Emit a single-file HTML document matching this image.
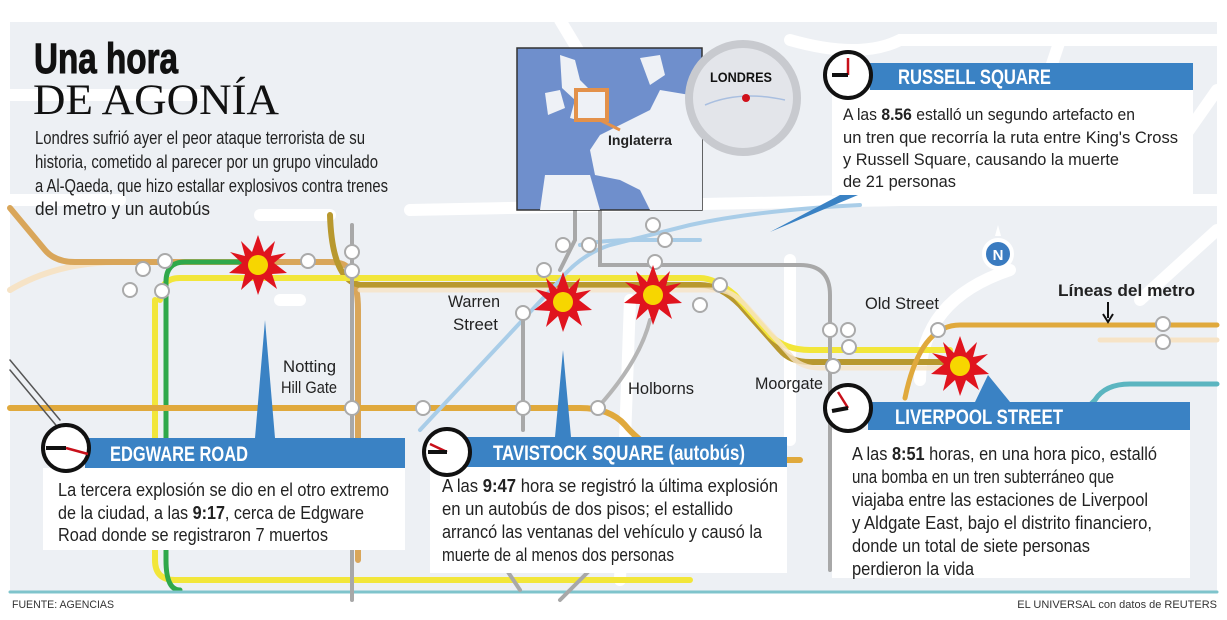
<!DOCTYPE html>
<html><head><meta charset="utf-8"><style>
html,body{margin:0;padding:0;background:#fff;}
svg{display:block}
text{font-family:"Liberation Sans",sans-serif;}
</style></head><body>
<svg width="1227" height="620" viewBox="0 0 1227 620" xmlns="http://www.w3.org/2000/svg">
<rect x="10" y="22" width="1207" height="570" fill="#edf0f4"/>
<!-- streets -->
<g stroke="#fff" stroke-width="12" fill="none" stroke-linecap="round">
<path d="M10 95 H200"/>
<path d="M560 20 L620 120"/>
<path d="M790 40 Q860 60 900 40 L1217 40"/>
<path d="M410 210 L900 200 Q1000 200 1030 130 L1060 40"/>
<path d="M260 215 L330 215"/>
<path d="M900 200 H1217"/>
<path d="M1217 90 L1140 200"/>
<path d="M10 200 H120"/>
<path d="M280 300 H300"/>
<path d="M630 300 L620 580"/>
<path d="M790 260 L790 440"/>
<path d="M1010 270 Q920 300 920 380"/>
<path d="M1217 230 L1140 300"/>
</g>
<!-- metro lines -->
<g fill="none" stroke-linecap="round">
<path d="M10 290 Q60 260 130 262 H200" stroke="#f6e3c6" stroke-width="6"/>
<path d="M10 208 L45 250 Q55 262 75 262 H330 Q345 262 350 270 Q358 285 358 310 V560" stroke="#d9a65a" stroke-width="6"/>
<path d="M330 215 Q332 280 360 285 H700 Q720 285 740 305 L780 350 Q790 362 810 362 H950" stroke="#b8982e" stroke-width="6"/>
<path d="M160 300 Q160 278 180 278 H700 Q715 278 735 295 L770 335 Q785 350 810 350 H950" stroke="#f2e63a" stroke-width="6"/>
<path d="M360 290 H720 Q735 292 750 310 L790 355 Q800 368 820 368 H960" stroke="#f6e3c6" stroke-width="5" opacity=".8"/>
<path d="M155 300 V560 Q155 580 175 580 H690" stroke="#f2e63a" stroke-width="6"/>
<path d="M255 262 H185 Q166 262 166 282 V560 Q166 590 180 590" stroke="#2fa84a" stroke-width="5"/>
<path d="M10 408 H580 Q610 408 625 425 Q650 455 690 460 H800" stroke="#e0a93c" stroke-width="6"/>
<path d="M905 398 Q920 325 960 325 H1217" stroke="#e0a93c" stroke-width="5"/>
<path d="M1217 340 H1100" stroke="#f6e3c6" stroke-width="5"/>
<path d="M1217 384 H1130 Q1105 384 1095 400 L1085 410" stroke="#5bb5c0" stroke-width="5"/>
<path d="M10 592 H1217" stroke="#7fc4cc" stroke-width="3"/>
<path d="M420 430 L560 280 Q580 255 610 245 L690 225 Q760 210 860 205" stroke="#a9cde8" stroke-width="4"/>
<path d="M580 245 Q600 240 640 240 H700" stroke="#a9cde8" stroke-width="4"/>
<path d="M352 225 V600" stroke="#a8a8a8" stroke-width="4"/>
<path d="M523 312 V430" stroke="#a8a8a8" stroke-width="4"/>
<path d="M560 270 L575 240 V210" stroke="#a8a8a8" stroke-width="4"/>
<path d="M600 210 V265 H800 Q830 265 830 295 V570" stroke="#a8a8a8" stroke-width="4"/>
<path d="M600 405 Q640 360 650 320" stroke="#b5b5b5" stroke-width="4"/>
<path d="M560 600 L600 560" stroke="#a8a8a8" stroke-width="4"/>
<path d="M500 560 L520 590" stroke="#a8a8a8" stroke-width="4"/>
<path d="M10 370 L60 430" stroke="#555" stroke-width="1.5"/>
<path d="M10 360 L60 420" stroke="#555" stroke-width="1.5"/>
</g>
<!-- stations -->
<g fill="#fff" stroke="#aaa" stroke-width="2">
<circle cx="143" cy="269" r="7"/><circle cx="165" cy="261" r="7"/><circle cx="130" cy="290" r="7"/><circle cx="162" cy="291" r="7"/>
<circle cx="308" cy="261" r="7"/><circle cx="352" cy="252" r="7"/><circle cx="352" cy="271" r="7"/>
<circle cx="523" cy="313" r="7"/><circle cx="563" cy="245" r="7"/><circle cx="589" cy="245" r="7"/><circle cx="544" cy="270" r="7"/>
<circle cx="653" cy="225" r="7"/><circle cx="665" cy="240" r="7"/><circle cx="655" cy="262" r="7"/>
<circle cx="720" cy="285" r="7"/><circle cx="700" cy="305" r="7"/>
<circle cx="830" cy="330" r="7"/><circle cx="848" cy="330" r="7"/><circle cx="849" cy="347" r="7"/><circle cx="833" cy="366" r="7"/>
<circle cx="938" cy="330" r="7"/><circle cx="1163" cy="324" r="7"/><circle cx="1163" cy="342" r="7"/>
<circle cx="352" cy="408" r="7"/><circle cx="423" cy="408" r="7"/><circle cx="523" cy="408" r="7"/><circle cx="598" cy="408" r="7"/>
</g>
<!-- stars -->
<defs>
<polygon id="st" points="0,-30 6,-13 17,-24 13,-9 28,-12 16,-2 29,8 14,9 19,24 6,14 0,30 -5,14 -17,25 -13,9 -29,8 -16,-2 -28,-13 -13,-9 -17,-24 -6,-13" fill="#e0141e"/>
</defs>
<g><use href="#st" x="258" y="265"/><circle cx="258" cy="265" r="10" fill="#f7d600"/>
<use href="#st" x="563" y="302"/><circle cx="563" cy="302" r="10" fill="#f7d600"/>
<use href="#st" x="653" y="295"/><circle cx="653" cy="295" r="10" fill="#f7d600"/>
<use href="#st" x="960" y="366"/><circle cx="960" cy="366" r="10" fill="#f7d600"/></g>
<!-- compass -->
<circle cx="998" cy="254" r="14" fill="#3a7bc0" stroke="#fff" stroke-width="4"/>
<text x="998" y="260" font-size="15" font-weight="bold" fill="#fff" text-anchor="middle">N</text>
<path d="M998 225 L995 236 H1001 Z" fill="#fff"/>
<!-- labels -->
<g font-size="17" fill="#222">
<text x="448" y="307" textLength="52" lengthAdjust="spacingAndGlyphs">Warren</text>
<text x="453" y="330" textLength="45" lengthAdjust="spacingAndGlyphs">Street</text>
<text x="283" y="372" textLength="53" lengthAdjust="spacingAndGlyphs">Notting</text>
<text x="281" y="393" textLength="56" lengthAdjust="spacingAndGlyphs">Hill Gate</text>
<text x="628" y="394" textLength="66" lengthAdjust="spacingAndGlyphs">Holborns</text>
<text x="755" y="389" textLength="68" lengthAdjust="spacingAndGlyphs">Moorgate</text>
<text x="865" y="309" textLength="74" lengthAdjust="spacingAndGlyphs">Old Street</text>
<text x="1058" y="296" font-weight="bold" textLength="137" lengthAdjust="spacingAndGlyphs">Líneas del metro</text>
</g>
<path d="M1108 302 V318" stroke="#111" stroke-width="2"/><path d="M1103 314 L1108 322 L1113 314" fill="none" stroke="#111" stroke-width="2"/>
<!-- title -->
<text x="34" y="73" font-size="43" font-weight="bold" fill="#111" stroke="#111" stroke-width="1" textLength="144" lengthAdjust="spacingAndGlyphs">Una hora</text>
<text x="33" y="114" font-size="43" style="font-family:'Liberation Serif',serif" fill="#111" textLength="246" lengthAdjust="spacingAndGlyphs">DE AGONÍA</text>
<g font-size="18" fill="#222">
<text x="35" y="144" textLength="330" lengthAdjust="spacingAndGlyphs">Londres sufrió ayer el peor ataque terrorista de su</text>
<text x="35" y="168" textLength="343" lengthAdjust="spacingAndGlyphs">historia, cometido al parecer por un grupo vinculado</text>
<text x="35" y="192" textLength="353" lengthAdjust="spacingAndGlyphs">a Al-Qaeda, que hizo estallar explosivos contra trenes</text>
<text x="35" y="215" textLength="175" lengthAdjust="spacingAndGlyphs">del  metro y un autobús</text>
</g>
<!-- Europe map -->
<rect x="517" y="48" width="185" height="162" fill="#6f8fcc" stroke="#333" stroke-width="1.5"/>
<g fill="#eef1f6">
<path d="M560 55 L575 60 L580 80 L595 95 L600 118 L585 122 L570 118 L575 100 L562 88 Z"/>
<path d="M545 93 L560 90 L565 108 L548 115 Z"/>
<path d="M600 135 L650 110 L660 90 L690 95 L702 85 V210 H650 L640 190 L620 180 L595 175 L590 150 Z"/>
<path d="M640 58 L660 55 L665 75 L650 85 Z"/>
<path d="M545 175 L590 175 L600 210 H540 Z"/>
</g>
<rect x="576" y="90" width="31" height="30" fill="#eef1f6" stroke="#e3914a" stroke-width="4"/>
<path d="M600 120 L620 130" stroke="#e3914a" stroke-width="3"/>
<text x="608" y="145" font-size="14" font-weight="bold" fill="#222" textLength="64" lengthAdjust="spacingAndGlyphs">Inglaterra</text>
<circle cx="743" cy="98" r="54" fill="#e3e5ea" stroke="#c8cacf" stroke-width="8"/>
<path d="M705 105 Q740 90 785 100" stroke="#a9bfe0" fill="none" stroke-width="1.5"/>
<text x="710" y="82" font-size="14" font-weight="bold" fill="#111" textLength="62" lengthAdjust="spacingAndGlyphs">LONDRES</text>
<circle cx="746" cy="98" r="4" fill="#d0101a"/>
<!-- pointers -->
<path d="M840 195 L770 232 L858 195 Z" fill="#3a82c4"/>
<path d="M255 438 L265 320 L275 438 Z" fill="#3a82c4"/>
<path d="M555 437 L563 350 L571 437 Z" fill="#3a82c4"/>
<path d="M975 402 L988 375 L1010 402 Z" fill="#3a82c4"/>
<!-- Russell Square -->
<rect x="832" y="90" width="361" height="105" fill="#fff"/>
<rect x="870" y="63" width="323" height="27" fill="#3a82c4"/>
<text x="898" y="84" font-size="21" font-weight="bold" fill="#fff" textLength="153" lengthAdjust="spacingAndGlyphs">RUSSELL SQUARE</text>
<g font-size="17" fill="#222">
<text x="843" y="120" textLength="292" lengthAdjust="spacingAndGlyphs">A las <tspan font-weight="bold">8.56</tspan> estalló un segundo artefacto en</text>
<text x="843" y="143" textLength="335" lengthAdjust="spacingAndGlyphs">un tren que recorría la ruta entre  King's Cross</text>
<text x="843" y="165" textLength="276" lengthAdjust="spacingAndGlyphs">y Russell Square, causando la muerte</text>
<text x="843" y="187" textLength="113" lengthAdjust="spacingAndGlyphs">de 21 personas</text>
</g>
<circle cx="848" cy="75" r="23" fill="#fff" stroke="#111" stroke-width="4"/>
<path d="M848 75 V58" stroke="#c8101a" stroke-width="2.5"/><path d="M848 75 H832" stroke="#111" stroke-width="4"/>
<!-- Edgware -->
<rect x="43" y="468" width="362" height="82" fill="#fff"/>
<rect x="85" y="438" width="320" height="30" fill="#3a82c4"/>
<text x="110" y="461" font-size="21" font-weight="bold" fill="#fff" textLength="138" lengthAdjust="spacingAndGlyphs">EDGWARE ROAD</text>
<g font-size="18" fill="#222">
<text x="58" y="496" textLength="331" lengthAdjust="spacingAndGlyphs">La tercera explosión se dio en el otro extremo</text>
<text x="58" y="519" textLength="306" lengthAdjust="spacingAndGlyphs">de la ciudad, a las <tspan font-weight="bold">9:17</tspan>, cerca de Edgware</text>
<text x="58" y="541" textLength="270" lengthAdjust="spacingAndGlyphs">Road donde se registraron 7 muertos</text>
</g>
<circle cx="66" cy="448" r="23" fill="#fff" stroke="#111" stroke-width="4"/>
<path d="M66 448 L88 454" stroke="#c8101a" stroke-width="2.5"/><path d="M66 448 H46" stroke="#111" stroke-width="4"/>
<!-- Tavistock -->
<rect x="430" y="467" width="357" height="106" fill="#fff"/>
<rect x="467" y="437" width="320" height="30" fill="#3a82c4"/>
<text x="493" y="460" font-size="21" font-weight="bold" fill="#fff" textLength="252" lengthAdjust="spacingAndGlyphs">TAVISTOCK SQUARE (autobús)</text>
<g font-size="18" fill="#222">
<text x="442" y="492" textLength="336" lengthAdjust="spacingAndGlyphs">A las <tspan font-weight="bold">9:47</tspan> hora se registró la última explosión</text>
<text x="442" y="515" textLength="291" lengthAdjust="spacingAndGlyphs">en un autobús de dos pisos; el estallido</text>
<text x="442" y="538" textLength="320" lengthAdjust="spacingAndGlyphs">arrancó las ventanas del vehículo y causó la</text>
<text x="442" y="561" textLength="232" lengthAdjust="spacingAndGlyphs">muerte de al menos dos personas</text>
</g>
<circle cx="447" cy="452" r="23" fill="#fff" stroke="#111" stroke-width="4"/>
<path d="M447 452 L430 444" stroke="#c8101a" stroke-width="2.5"/><path d="M447 452 H428" stroke="#111" stroke-width="4"/>
<!-- Liverpool -->
<rect x="832" y="430" width="358" height="148" fill="#fff"/>
<rect x="868" y="402" width="322" height="28" fill="#3a82c4"/>
<text x="895" y="424" font-size="21" font-weight="bold" fill="#fff" textLength="168" lengthAdjust="spacingAndGlyphs">LIVERPOOL STREET</text>
<g font-size="18" fill="#222">
<text x="852" y="460" textLength="305" lengthAdjust="spacingAndGlyphs">A las <tspan font-weight="bold">8:51</tspan> horas, en una hora pico, estalló</text>
<text x="852" y="483" textLength="262" lengthAdjust="spacingAndGlyphs">una bomba en un tren subterráneo que</text>
<text x="852" y="506" textLength="296" lengthAdjust="spacingAndGlyphs">viajaba entre las estaciones de Liverpool</text>
<text x="852" y="529" textLength="300" lengthAdjust="spacingAndGlyphs">y Aldgate East, bajo el distrito financiero,</text>
<text x="852" y="552" textLength="238" lengthAdjust="spacingAndGlyphs">donde un total de siete personas</text>
<text x="852" y="575" textLength="122" lengthAdjust="spacingAndGlyphs">perdieron la vida</text>
</g>
<circle cx="848" cy="408" r="23" fill="#fff" stroke="#111" stroke-width="4"/>
<path d="M848 408 L838 392" stroke="#c8101a" stroke-width="2.5"/><path d="M848 408 L832 411" stroke="#111" stroke-width="4"/>
<!-- footer -->
<text x="12" y="608" font-size="11" fill="#333" textLength="102" lengthAdjust="spacingAndGlyphs">FUENTE: AGENCIAS</text>
<text x="1217" y="608" font-size="11" fill="#333" text-anchor="end">EL UNIVERSAL con datos de REUTERS</text>
</svg>
</body></html>
